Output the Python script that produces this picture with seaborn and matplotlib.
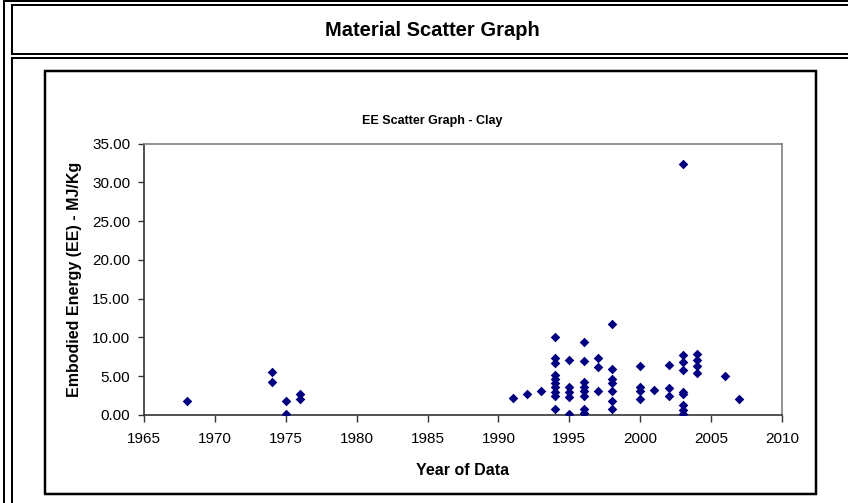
import matplotlib
matplotlib.use("Agg")
import matplotlib.pyplot as plt
from matplotlib.lines import Line2D
import seaborn as sns
import pandas as pd

# ---- data ----
years = [1968,
         1974, 1974, 1975, 1975, 1976, 1976,
         1991, 1992, 1993,
         1994, 1994, 1994, 1994, 1994, 1994, 1994, 1994, 1994, 1994,
         1995, 1995, 1995, 1995, 1995,
         1996, 1996, 1996, 1996, 1996, 1996, 1996, 1996,
         1997, 1997, 1997,
         1998, 1998, 1998, 1998, 1998, 1998, 1998,
         2000, 2000, 2000, 2000,
         2001,
         2002, 2002, 2002,
         2003, 2003, 2003, 2003, 2003, 2003, 2003, 2003, 2003,
         2004, 2004, 2004, 2004,
         2006, 2007]
energy = [1.84,
          5.5, 4.2, 1.84, 0.1, 2.67, 2.0,
          2.19, 2.71, 3.13,
          10.05, 7.35, 6.7, 5.15, 4.7, 4.1, 3.55, 3.0, 2.4, 0.72,
          7.1, 3.65, 3.0, 2.36, 0.08,
          9.37, 6.9, 4.2, 3.65, 3.05, 2.49, 0.8, 0.3,
          7.39, 6.23, 3.15,
          11.75, 5.9, 4.64, 4.08, 3.09, 1.8, 0.73,
          6.3, 3.6, 3.1, 2.05,
          3.22,
          6.4, 3.45, 2.5,
          32.4, 7.73, 6.79, 5.8, 2.95, 2.7, 1.3, 0.7, 0.12,
          7.86, 7.09, 6.31, 5.45,
          5.0, 2.06]

x_ticks = [1965, 1970, 1975, 1980, 1985, 1990, 1995, 2000, 2005, 2010]
y_ticks = [0, 5, 10, 15, 20, 25, 30, 35]

main_title = "Material Scatter Graph"
chart_title = "EE Scatter Graph - Clay"
x_label = "Year of Data"
y_label = "Embodied Energy (EE) - MJ/Kg"

df = pd.DataFrame({"Year": years, "EE": energy})

sns.set_theme(style="white")
plt.rcParams["font.family"] = ["Liberation Sans", "DejaVu Sans"]
plt.rcParams["text.color"] = "black"
plt.rcParams["axes.labelcolor"] = "black"
plt.rcParams["xtick.color"] = "black"
plt.rcParams["ytick.color"] = "black"

W, H = 848, 503
fig = plt.figure(figsize=(W / 100, H / 100), dpi=100)
fig.patch.set_facecolor("white")

def fx(px):
    return px / W

def fy(py):
    return 1 - py / H

PT = 72 / 100  # points per pixel

def hline(y, x0, x1, lw=2, color="black"):
    fig.add_artist(Line2D([fx(x0), fx(x1)], [fy(y), fy(y)], lw=lw * PT,
                          color=color, transform=fig.transFigure, solid_capstyle="butt"))

def vline(x, y0, y1, lw=2, color="black"):
    fig.add_artist(Line2D([fx(x), fx(x)], [fy(y0), fy(y1)], lw=lw * PT,
                          color=color, transform=fig.transFigure, solid_capstyle="butt"))

# ---- table borders ----
vline(4, 0, H)
hline(1.2, 4, W)
hline(4.6, 11, W)
hline(54.2, 11, W)
vline(11.5, 4, 55)
hline(58.2, 11, W)
vline(11.5, 57, H)

# chart box
vline(45, 70, 494, lw=2.5)
hline(70.5, 44, 817, lw=2.5)
vline(816, 70, 495, lw=2.5)
hline(494, 44, 817, lw=2.5)

fig.text(fx(432), fy(31), main_title, ha="center", va="center",
         fontsize=14.5, fontweight="bold",
         family=["Liberation Sans Narrow", "Liberation Sans", "DejaVu Sans"])
fig.text(fx(432), fy(121), chart_title, ha="center", va="center",
         fontsize=9, fontweight="bold")

# ---- plot area ----
L, R, T, B = 144, 782, 143.5, 415
ax = fig.add_axes([fx(L), fy(B), fx(R - L), (B - T) / H])
sns.scatterplot(data=df, x="Year", y="EE", ax=ax, marker="D", s=24,
                color="#000080", edgecolor="#000080", linewidth=0, zorder=3)

ax.set_xlim(1965, 2010)
ax.set_ylim(0, 35)
ax.set_xticks(x_ticks)
ax.set_xticklabels([str(v) for v in x_ticks])
ax.set_yticks(y_ticks)
ax.set_yticklabels([f"{v:.2f}" for v in y_ticks])
ax.tick_params(axis="both", labelsize=11, colors="black")
ax.tick_params(axis="y", direction="out", length=4, width=1, pad=6, left=True,
               color="#333333")
ax.tick_params(axis="x", direction="out", length=5, width=1, pad=7.5, bottom=True,
               color="#333333")
ax.set_xlabel(x_label, fontsize=11.5, fontweight="bold", labelpad=12)
ax.set_ylabel(y_label, fontsize=11.5, fontweight="bold", labelpad=7)
ax.grid(False)
for side in ["left", "bottom"]:
    ax.spines[side].set_color("#333333")
    ax.spines[side].set_linewidth(1.2)
for side in ["top", "right"]:
    ax.spines[side].set_color("#808080")
    ax.spines[side].set_linewidth(1.2)
ax.set_facecolor("white")

fig.savefig("out.png", dpi=100, facecolor="white")
